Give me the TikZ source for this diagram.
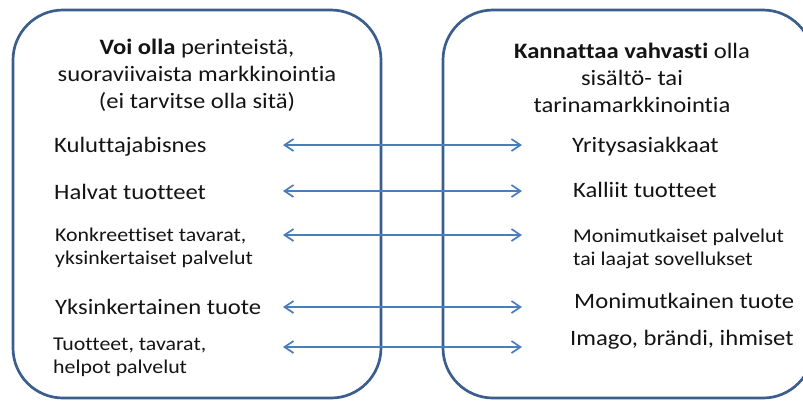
\documentclass[tikz,border=0pt]{standalone}
\usepackage{fontspec}
\setmainfont{Carlito}[FakeStretch=1.12, Ligatures=NoCommon]
\usetikzlibrary{arrows.meta}
\definecolor{boxline}{HTML}{3B5E8C}
\definecolor{arrowblue}{HTML}{4A7EBB}
\definecolor{ink}{HTML}{141414}
\tikzset{
  panel/.style={draw=boxline, line width=2.7pt, rounded corners=50pt},
  heading/.style={text=ink, align=center, inner sep=0pt, anchor=base,
    font=\fontsize{22}{27}\selectfont},
  item/.style={text=ink, align=left, inner sep=0pt, anchor=base west,
    font=\fontsize{22}{23}\selectfont},
  smallitem/.style={text=ink, align=left, inner sep=0pt, anchor=base west,
    font=\fontsize{19.5}{23}\selectfont},
  link/.style={draw=arrowblue, line width=1.7pt,
    {Straight Barb[length=9pt,width=12pt]}-{Straight Barb[length=9pt,width=12pt]}}
}
\begin{document}
\begin{tikzpicture}[x=1pt,y=-1pt]
  \useasboundingbox (0,0) rectangle (803,400);
  \clip (0,0) rectangle (803,400);

  % the two panels
  \draw[panel] (13,10) rectangle (381,398);
  \draw[panel] (443,10) rectangle (813,398);

  % headings (base anchor sits on the last line)
  \node[heading] (lhead) at (197,108)
    {\textbf{Voi olla} perinteistä,\\suoraviivaista markkinointia\\(ei tarvitse olla sitä)};
  \node[heading] (rhead) at (632,112)
    {\textbf{Kannattaa vahvasti} olla\\sisältö- tai\\tarinamarkkinointia};

  % left column
  \node[item] (l1) at (54,152) {Kuluttajabisnes};
  \node[item] (l2) at (54,199) {Halvat tuotteet};
  \node[smallitem] (l3) at (55,264) {Konkreettiset tavarat,\\yksinkertaiset palvelut};
  \node[item] (l4) at (55,314) {Yksinkertainen tuote};
  \node[smallitem] (l5) at (53,373) {Tuotteet, tavarat,\\helpot palvelut};

  % right column
  \node[item] (r1) at (572,152) {Yritysasiakkaat};
  \node[item] (r2) at (573,197) {Kalliit tuotteet};
  \node[smallitem] (r3) at (573,265) {Monimutkaiset palvelut\\tai laajat sovellukset};
  \node[item] (r4) at (574,308) {Monimutkainen tuote};
  \node[item] (r5) at (570,345) {Imago, brändi, ihmiset};

  % arrow ends
  \foreach \i/\y in {1/145,2/191,3/235,4/307,5/347}{
    \coordinate (a\i) at (283,\y);
    \coordinate (b\i) at (522,\y);
  }

  % double-headed links between the columns
  \foreach \i in {1,...,5}{
    \draw[link] (a\i) -- (b\i);
  }
\end{tikzpicture}
\end{document}
